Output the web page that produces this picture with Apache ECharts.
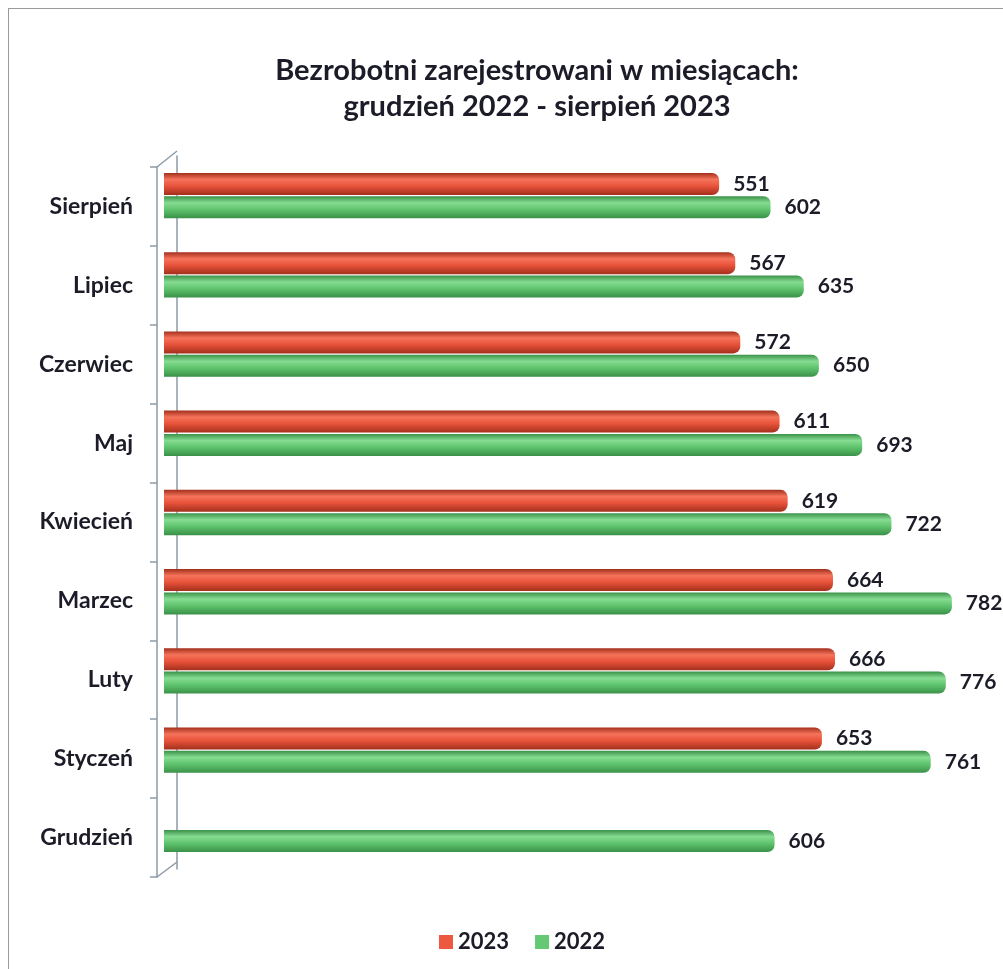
<!DOCTYPE html>
<html>
<head>
<meta charset="utf-8">
<script src="https://cdn.jsdelivr.net/npm/echarts@6/dist/echarts.min.js"></script>
<style>
  html, body { margin: 0; padding: 0; background: #fff; }
  #frame { position: absolute; left: 8px; top: 8px; width: 1000px; height: 970px; border-left: 1px solid #9a9a9a; border-top: 1px solid #9a9a9a; }
  #chart { width: 1003px; height: 969px; }
</style>
</head>
<body>
<div id="frame"></div>
<div id="chart"></div>
<script>
// months, top to bottom
const months = ["Sierpień", "Lipiec", "Czerwiec", "Maj", "Kwiecień", "Marzec", "Luty", "Styczeń", "Grudzień"];
const values2023 = [551, 567, 572, 611, 619, 664, 666, 653, null];
const values2022 = [602, 635, 650, 693, 722, 782, 776, 761, 606];
const seriesNames = ["2023", "2022"];

const txt = "#1c1c28";
const font = "Lato, 'Open Sans', sans-serif";
const wall = "#8d9aa6";
const red = "#ec5840";
const green = "#64c974";

// fake cylinder shading
function tube(dark, mid, light) {
  return new echarts.graphic.LinearGradient(0, 0, 0, 1, [
    { offset: 0, color: dark },
    { offset: 0.3, color: light },
    { offset: 0.6, color: mid },
    { offset: 1, color: dark },
  ]);
}

const barLabel = {
  show: true,
  position: "right",
  distance: 14,
  color: txt,
  fontFamily: font,
  fontWeight: "bold",
  fontSize: 21,
};

const chart = echarts.init(document.getElementById("chart"));
chart.setOption({
  animation: false,
  title: {
    text: "Bezrobotni zarejestrowani w miesiącach:\ngrudzień 2022 - sierpień 2023",
    left: 532,
    top: 48,
    textAlign: "center",
    textStyle: { fontFamily: font, fontWeight: "bold", fontSize: 29, lineHeight: 36, color: txt },
  },
  legend: {
    data: [
      { name: seriesNames[0], itemStyle: { color: red } },
      { name: seriesNames[1], itemStyle: { color: green } },
    ],
    left: 434,
    top: 926,
    itemWidth: 14,
    itemHeight: 14,
    itemGap: 26,
    icon: "rect",
    textStyle: { fontFamily: font, fontWeight: "bold", fontSize: 22, color: txt },
  },
  // grid 0: bars + back wall, grid 1: front axis with labels (3D look)
  grid: [
    { left: 164, right: 33, top: 156, bottom: 100 },
    { left: 157, right: 33, top: 167, bottom: 92 },
  ],
  xAxis: [
    { type: "value", gridIndex: 0, min: 0, max: 800, show: false },
    { type: "value", gridIndex: 1, min: 0, max: 800, show: false },
  ],
  yAxis: [
    {
      type: "category",
      gridIndex: 0,
      data: months,
      inverse: true,
      offset: -13,
      axisLine: { lineStyle: { color: wall, width: 1.5 } },
      axisTick: { show: false },
      axisLabel: { show: false },
    },
    {
      type: "category",
      gridIndex: 1,
      data: months,
      inverse: true,
      axisLine: { show: true, lineStyle: { color: wall, width: 1.5 } },
      axisTick: { show: true, length: 7, lineStyle: { color: wall, width: 1.5 } },
      axisLabel: { margin: 24, color: txt, fontFamily: font, fontWeight: "bold", fontSize: 23 },
    },
  ],
  graphic: [
    { type: "line", shape: { x1: 157, y1: 167, x2: 177, y2: 151 }, style: { stroke: wall, lineWidth: 1.5 } },
    { type: "line", shape: { x1: 157, y1: 877, x2: 177, y2: 862 }, style: { stroke: wall, lineWidth: 1.5 } },
  ],
  series: [
    {
      name: "2023",
      type: "bar",
      data: values2023,
      barWidth: 22,
      barGap: "6%",
      itemStyle: { color: tube("#a3301c", "#e8523a", "#f5735a"), borderRadius: [0, 7, 7, 0] },
      label: barLabel,
    },
    {
      name: "2022",
      type: "bar",
      data: values2022,
      barWidth: 22,
      itemStyle: { color: tube("#3a9148", "#5fc46d", "#86dc92"), borderRadius: [0, 7, 7, 0] },
      label: barLabel,
    },
  ],
});
</script>
</body>
</html>
